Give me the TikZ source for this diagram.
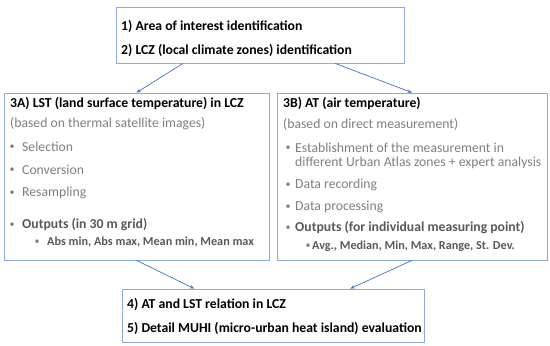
\documentclass[tikz,border=0pt]{standalone}
\usepackage{fontspec}
\setmainfont{Carlito}
\usetikzlibrary{arrows.meta,calc}
\definecolor{frameblue}{HTML}{8EA9DB}
\definecolor{arrowblue}{HTML}{4472C4}
\definecolor{lightgrey}{HTML}{7F7F7F}
\definecolor{darkgrey}{HTML}{595959}
\tikzset{
  box/.style={draw=frameblue,line width=.8pt,inner sep=0pt},
  txt/.style={anchor=west,inner sep=0pt},
  head/.style={txt,font=\fontsize{13.7}{16}\selectfont\bfseries},
  plain/.style={txt,text=lightgrey},
  outp/.style={txt,text=darkgrey,font=\fontsize{13.7}{16}\selectfont\bfseries},
  sub/.style={txt,text=darkgrey,font=\fontsize{12.2}{14}\selectfont\bfseries},
  dot/.style={inner sep=0pt,text=lightgrey,font=\fontsize{10}{10}\selectfont},
  arr/.style={draw=arrowblue,line width=.7pt,-{Stealth[length=4.5pt,width=3.5pt]}}
}
\begin{document}
\begin{tikzpicture}[x=1pt,y=-1pt,font=\fontsize{13.7}{16}\selectfont]
\useasboundingbox (0,0) rectangle (550,346);
% boxes
\path (260,35) node[box,minimum width=288pt,minimum height=56pt](top){};
\path (136.5,176.5) node[box,minimum width=265pt,minimum height=167pt](lst){};
\path (412,176.5) node[box,minimum width=270pt,minimum height=167pt](at){};
\path (273,315.5) node[box,minimum width=302pt,minimum height=53pt](eval){};
% texts
\foreach \y/\gt[count=\i] in {26/{1) Area of interest identification},50/{2) LCZ (local climate zones) identification}}\path (121,\y) node[head](t\i){\gt};
\foreach \y/\gt[count=\i] in {304/{4) AT and LST relation in LCZ},328/{5) Detail MUHI (micro-urban heat island) evaluation}}\path (127,\y) node[head](e\i){\gt};
\path (10,103) node[head](a0){3A) LST (land surface temperature) in LCZ};
\path (10,124) node[plain](a1){(based on thermal satellite images)};
\foreach \y/\gt[count=\i] in {147/Selection,170/Conversion,193/Resampling}\path (12,\y) node[dot](da\i){•} (22,\y) node[plain](la\i){\gt};
\path (12,225) node[dot](da4){•} (22,225) node[outp](la4){Outputs (in 30 m grid)};
\path (37,242) node[dot](da5){•} (47,242) node[sub](la5){Abs min, Abs max, Mean min, Mean max};
\path (283,103) node[head](b0){3B) AT (air temperature)};
\path (283,124) node[plain](b1){(based on direct measurement)};
\path (288,148) node[dot](db1){•} (295,148) node[plain](lb1){Establishment of the measurement in};
\path (295,163) node[plain](lb2){different Urban Atlas zones + expert analysis};
\foreach \y/\gt[count=\i from 3] in {185/Data recording,207/Data processing}\path (288,\y) node[dot](db\i){•} (295,\y) node[plain](lb\i){\gt};
\path (288,228) node[dot](db5){•} (295,228) node[outp](lb5){Outputs (for individual measuring point)};
\path (308,246) node[dot](db6){•} (312,246) node[sub](lb6){Avg., Median, Min, Max, Range, St. Dev.};
% connectors
\draw[arr] ($(top.south west)!.233!(top.south east)$)--(lst.north);
\draw[arr] ($(top.south west)!.76!(top.south east)$)--(at.north);
\draw[arr] (lst.south)--($(eval.north west)!.24!(eval.north east)$);
\draw[arr] (at.south)--($(eval.north west)!.755!(eval.north east)$);
\end{tikzpicture}
\end{document}
